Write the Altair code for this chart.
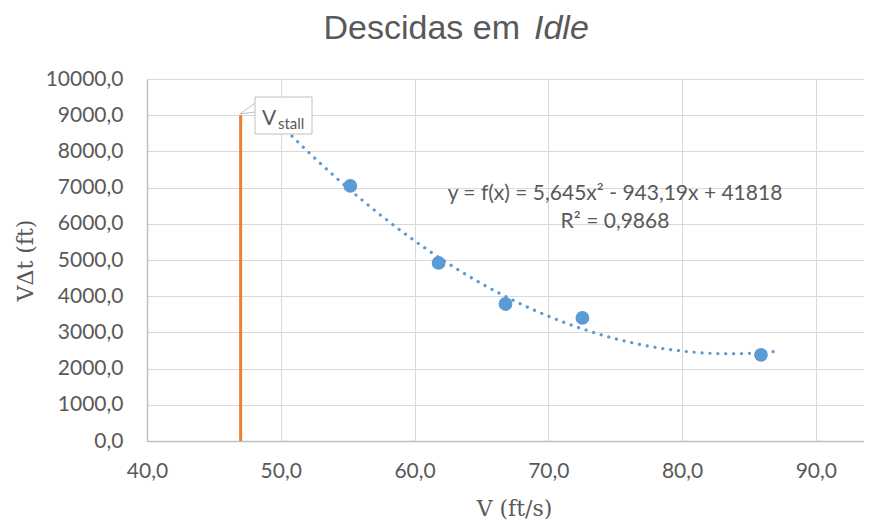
import altair as alt
import pandas as pd

# ---- data ----
v_fts = [55.2, 61.8, 66.8, 72.55, 85.9]
vdt_ft = [7045, 4920, 3785, 3400, 2380]
v_stall = [47.0]
stall_bottom = [0]
stall_top = [9000]
x_ticks = [40, 50, 60, 70, 80, 90]
y_ticks = [0, 1000, 2000, 3000, 4000, 5000, 6000, 7000, 8000, 9000, 10000]
trend_extent = [50, 87.3]
title_main = "Descidas em"
title_italic = "Idle"
eq_line1 = "y = f(x) = 5,645x² - 943,19x + 41818"
eq_line2 = "R² = 0,9868"
callout_main = "V"
callout_sub = "stall"
x_title = "V (ft/s)"
y_title = "VΔt (ft)"

W, H = 717, 362
TXT = "#595959"
BLUE = "#5B9BD5"
ORANGE = "#ED7D31"
LBL_FONT = "Lato"
SERIF = "DejaVu Serif"
comma_fmt = "replace(format(datum.value, '.1f'), '.', ',')"

pts = pd.DataFrame({"v": v_fts, "vdt": vdt_ft})
stall = pd.DataFrame({"v": v_stall, "y0": stall_bottom, "y1": stall_top})
one = pd.DataFrame({"k": [0]})

xscale = alt.Scale(domain=[40, 93.6], nice=False, zero=False)
yscale = alt.Scale(domain=[0, 10000], nice=False)

xaxis = alt.Axis(values=x_ticks, tickCount=6, labelExpr=comma_fmt, title=x_title,
                 titleFont=SERIF, titleFontSize=22, titleFontWeight="normal",
                 titleColor=TXT, titleX=367, titleY=74, titleBaseline="alphabetic",
                 titleAlign="center", labelPadding=19, labelFlush=False,
                 labelOverlap=False, labelBound=False)
yaxis = alt.Axis(values=y_ticks, tickCount=11, labelExpr=comma_fmt, title=y_title,
                 titleFont=SERIF, titleFontSize=22, titleFontWeight="normal",
                 titleColor=TXT, titleX=-122, titleY=H / 2, titleAngle=-90,
                 titleBaseline="middle", titleAlign="center", labelPadding=24,
                 labelFlush=False, labelOverlap=False, labelBound=False)

X = alt.X("v:Q", scale=xscale, axis=xaxis)
Y = alt.Y("vdt:Q", scale=yscale, axis=yaxis)

base = alt.Chart(pts)

trend = base.transform_regression(
    "v", "vdt", method="poly", order=2, extent=trend_extent
).mark_line(color=BLUE, strokeWidth=3.2, strokeDash=[0.1, 7.8], strokeCap="round").encode(
    x=X, y=Y,
)

points = base.mark_circle(size=190, color=BLUE, opacity=1).encode(x=X, y=Y)

stall_rule = alt.Chart(stall).mark_rule(color=ORANGE, strokeWidth=3).encode(
    x=alt.X("v:Q", scale=xscale, axis=xaxis),
    y=alt.Y("y0:Q", scale=yscale, axis=yaxis),
    y2="y1:Q",
)

ann = alt.Chart(one)

ptr1 = ann.mark_rule(color="#BFBFBF", strokeWidth=1).encode(
    x=alt.value(108), y=alt.value(24), x2=alt.value(93), y2=alt.value(35))
ptr2 = ann.mark_rule(color="#BFBFBF", strokeWidth=1).encode(
    x=alt.value(93), y=alt.value(35), x2=alt.value(108), y2=alt.value(33))
box = ann.mark_rect(fill="white", stroke="#BFBFBF", strokeWidth=1).encode(
    x=alt.value(108), x2=alt.value(165), y=alt.value(18), y2=alt.value(55))
cv = ann.mark_text(text=callout_main, font=LBL_FONT, fontSize=21, color=TXT,
                   align="left", baseline="alphabetic").encode(x=alt.value(115), y=alt.value(46))
cs = ann.mark_text(text=callout_sub, font=LBL_FONT, fontSize=15, color=TXT,
                   align="left", baseline="alphabetic").encode(x=alt.value(131), y=alt.value(50))

eq1 = ann.mark_text(text=eq_line1, font=LBL_FONT, fontSize=21, color=TXT,
                    align="center", baseline="alphabetic").encode(x=alt.value(468), y=alt.value(121))
eq2 = ann.mark_text(text=eq_line2, font=LBL_FONT, fontSize=21, color=TXT,
                    align="center", baseline="alphabetic").encode(x=alt.value(468), y=alt.value(149))

t1 = ann.mark_text(text=title_main, font="Liberation Sans", fontSize=34, color=TXT,
                   align="right", baseline="alphabetic").encode(x=alt.value(373), y=alt.value(-40))
t2 = ann.mark_text(text=title_italic, font="Liberation Sans", fontSize=34, color=TXT,
                   fontStyle="italic", align="left", baseline="alphabetic").encode(
    x=alt.value(387), y=alt.value(-40))

chart = alt.layer(
    trend, stall_rule, points, ptr1, ptr2, box, cv, cs, eq1, eq2, t1, t2
).properties(
    width=W, height=H,
    autosize=alt.AutoSizeParams(type="none"),
    padding={"left": 139, "top": 71, "right": 0, "bottom": 79},
    background="white",
).configure_axis(
    grid=True, gridColor="#D9D9D9", gridWidth=1,
    domainColor="#BFBFBF", domainWidth=1.5, ticks=False,
    labelFont=LBL_FONT, labelFontSize=21, labelColor=TXT,
).configure_view(strokeWidth=0)

chart.save("out.html", embed_options={"renderer": "svg", "actions": False})
